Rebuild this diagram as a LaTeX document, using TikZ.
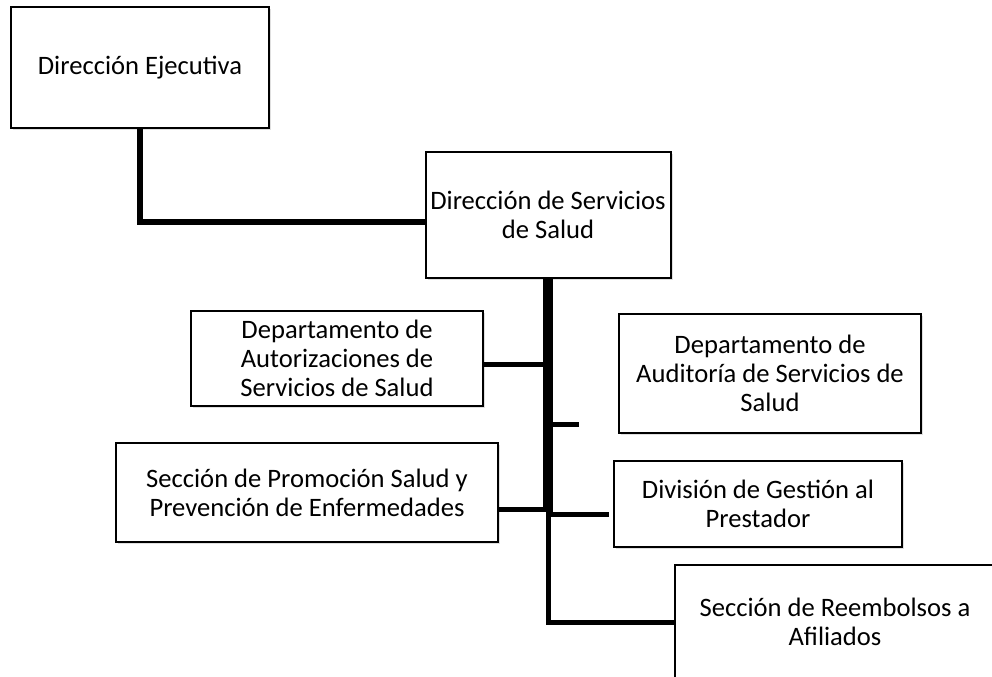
\documentclass[tikz,border=0pt]{standalone}
\usepackage{fontspec}
\setmainfont{Carlito}
\usetikzlibrary{shadows}
\begin{document}
\begin{tikzpicture}[x=0.5pt,y=-0.5pt,
        caja/.style={draw,line width=1pt,fill=white,align=center,inner sep=0pt,
            font=\fontsize{13.3}{14.5}\selectfont,
            drop shadow={shadow xshift=1pt,shadow yshift=-1.2pt,opacity=0.25}},
        lf/.style={line width=2.5pt},
        lg/.style={line width=5pt}]
        \clip (0,0) rectangle (992,676);
        % cajas
        \node[caja,minimum width=129pt,minimum height=60.5pt] (ejec) at (140,67.5) {Dirección Ejecutiva};
        \node[caja,minimum width=122.5pt,minimum height=63pt] (dss) at (548,215) {Dirección de Servicios\\de Salud};
        \node[caja,minimum width=146pt,minimum height=47.5pt] (aut) at (337,358.5) {Departamento de\\Autorizaciones de\\Servicios de Salud};
        \node[caja,minimum width=191pt,minimum height=49.5pt] (prom) at (307,492.5) {Sección de Promoción Salud y\\Prevención de Enfermedades};
        \node[caja,minimum width=151pt,minimum height=59.5pt] (aud) at (770,373.5) {Departamento de\\Auditoría de Servicios de\\Salud};
        \node[caja,minimum width=144pt,minimum height=43pt] (div) at (758,504) {División de Gestión al\\Prestador};
        \node[caja,minimum width=160pt,minimum height=57.5pt] (reem) at (835,622) {Sección de Reembolsos a\\Afiliados};
        % puntos sobre el eje
        \coordinate (s1) at (548,512);
        \coordinate (haut) at (548,364);
        \coordinate (haud) at (579,424);
        \coordinate (hprom) at (548,509);
        \coordinate (hdiv) at (609,514);
        % conectores
        \draw[line width=2.75pt] (ejec.south) |- ([yshift=-3.5pt]dss.west);
        \draw[lg] (dss.south) -- (s1);
        \draw[lf] (s1) |- (reem.west);
        \draw[lf] (aut.east |- haut) -- (haut);
        \draw[lf] (prom.east |- hprom) -- (hprom);
        \draw[lf] (dss.south |- haud) -- (haud);
        \draw[lf] (dss.south |- hdiv) -- (hdiv);
    \end{tikzpicture}
\end{document}
